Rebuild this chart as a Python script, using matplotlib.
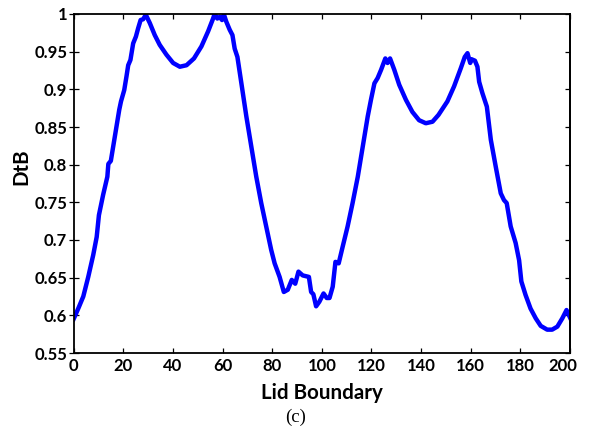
import matplotlib
matplotlib.use("Agg")
import matplotlib.pyplot as plt
from matplotlib.transforms import ScaledTranslation

boundary = [0, 2, 3.9, 5.9, 7.9, 9.3, 10.2, 11.9, 13.6, 14.0, 15.0, 16.6, 18.4, 19.1,
            20.4, 21.3, 22.0, 22.9, 24.0, 25.1, 26.0, 27.0, 28.0, 29.1, 30.7, 32.7,
            34.7, 37.4, 40.1, 42.8, 45.5, 48.5, 51.5, 54.2, 56.2, 56.8, 57.9, 58.9,
            59.8, 60.6, 61.5, 62.9, 64.0, 64.9, 66.0, 67.6, 69.6, 71.6, 73.6, 75.6,
            77.6, 79.6, 81.0, 83.0, 84.7, 86.3, 87.9, 89.3, 90.6, 92.3, 94.8, 95.7,
            96.6, 97.7, 99.0, 100.7, 102.0, 103.1, 104.4, 105.5, 106.8, 108.4, 110.4,
            112.4, 114.5, 116.5, 118.5, 119.8, 121.2, 122.5, 123.9, 125.6, 126.5,
            127.5, 129.2, 131.2, 133.9, 136.5, 139.2, 141.9, 144.6, 147.0, 150.6,
            153.3, 156.0, 157.6, 158.7, 159.8, 160.3, 161.7, 162.7, 163.4, 164.7,
            166.5, 168.1, 170.1, 172.1, 173.4, 174.5, 176.1, 178.1, 179.5, 180.4,
            182.1, 184.1, 186.2, 188.2, 190.8, 192.8, 194.9, 196.9, 198.6, 200.0]
dtb = [0.595, 0.610, 0.625, 0.651, 0.680, 0.704, 0.733, 0.760, 0.784, 0.801, 0.805,
       0.837, 0.873, 0.884, 0.899, 0.917, 0.932, 0.939, 0.961, 0.970, 0.981, 0.992,
       0.993, 0.999, 0.988, 0.972, 0.959, 0.946, 0.935, 0.930, 0.932, 0.941, 0.957,
       0.977, 0.994, 1.000, 0.994, 0.996, 0.992, 0.999, 0.990, 0.979, 0.972, 0.954,
       0.943, 0.908, 0.864, 0.824, 0.784, 0.749, 0.718, 0.687, 0.669, 0.651, 0.631,
       0.634, 0.647, 0.642, 0.658, 0.653, 0.651, 0.631, 0.628, 0.612, 0.618, 0.629,
       0.623, 0.623, 0.638, 0.671, 0.669, 0.691, 0.718, 0.749, 0.784, 0.824, 0.864,
       0.886, 0.908, 0.915, 0.926, 0.941, 0.935, 0.941, 0.926, 0.906, 0.886, 0.870,
       0.859, 0.855, 0.857, 0.866, 0.884, 0.904, 0.928, 0.943, 0.948, 0.935, 0.940,
       0.938, 0.930, 0.910, 0.895, 0.877, 0.833, 0.797, 0.762, 0.753, 0.749, 0.718,
       0.696, 0.673, 0.645, 0.627, 0.609, 0.596, 0.586, 0.581, 0.581, 0.585, 0.596,
       0.607, 0.597]

xticks = [0, 20, 40, 60, 80, 100, 120, 140, 160, 180, 200]
yticks = [0.55, 0.6, 0.65, 0.7, 0.75, 0.8, 0.85, 0.9, 0.95, 1]
ytick_labels = ["0.55", "0.6", "0.65", "0.7", "0.75", "0.8", "0.85", "0.9", "0.95", "1"]

plt.rcParams['font.family'] = ['Lato', 'DejaVu Sans']

fig = plt.figure(figsize=(5.91, 4.28), dpi=100)
ax = fig.add_axes([73.6 / 591, 1 - 353 / 428, (570 - 73.6) / 591, (353 - 14) / 428])

ax.plot(boundary, dtb, color='#0000ff', linewidth=3.2, solid_joinstyle='round')

ax.set_xlim(0, 200)
ax.set_ylim(0.55, 1)
ax.set_xticks(xticks)
ax.set_xticklabels([str(t) for t in xticks], fontweight='bold', fontsize=12)
ax.set_yticks(yticks)
ax.set_yticklabels(ytick_labels, fontweight='bold', fontsize=12)

for s in ax.spines.values():
    s.set_linewidth(1.3)
    s.set_color('black')

ax.tick_params(axis='x', which='both', direction='in', length=3.5, width=0.9,
               top=True, pad=3.5)
ax.tick_params(axis='y', which='both', direction='inout', length=7, width=0.9,
               right=False, pad=1)
ax2 = ax.secondary_yaxis('right')
ax2.set_yticks(yticks)
ax2.tick_params(direction='in', length=3.5, width=0.9, labelright=False)
ax2.spines['right'].set_linewidth(1.3)

ax.set_xlabel('Lid Boundary', fontsize=14.8, fontweight='bold', va='center')
ax.xaxis.set_label_coords(0.5, -0.118)
ax.set_ylabel('DtB', fontsize=14.8, fontweight='bold', va='center')
ax.yaxis.set_label_coords(-0.106, 0.549)

fig.text(0.5, 1 - 417 / 428, '(c)', fontsize=13.5, family='Liberation Serif',
         ha='center', va='center')

# last x tick label sits slightly left of its tick in the original
fig.canvas.draw()
last = ax.xaxis.get_major_ticks()[-1].label1
last.set_transform(last.get_transform() +
                   ScaledTranslation(-0.07, 0, fig.dpi_scale_trans))

fig.savefig('out.png', dpi=100)
